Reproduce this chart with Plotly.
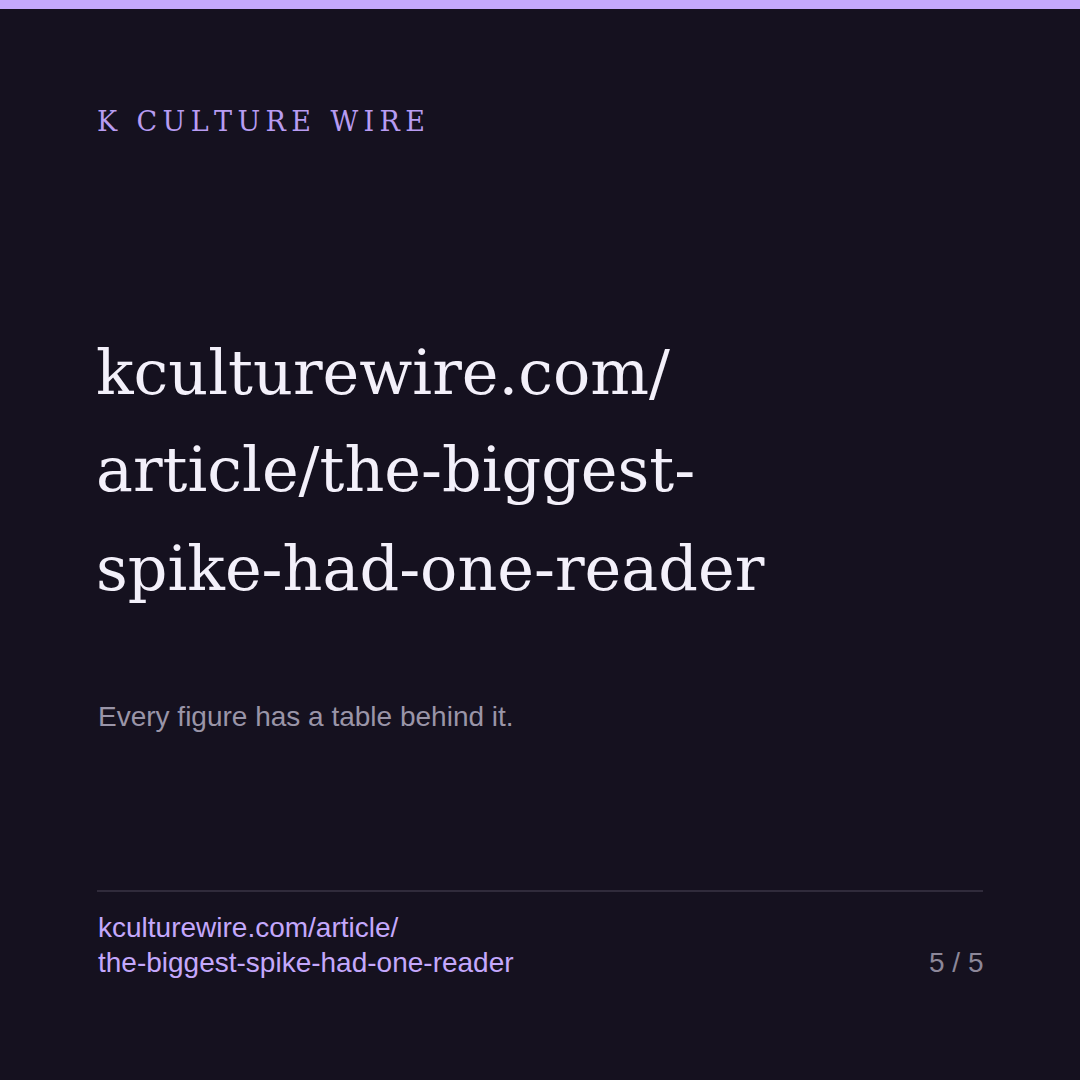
import plotly.graph_objects as go

# card text
brand = "K CULTURE WIRE"
title_lines = ["kculturewire.com/", "article/the-biggest-", "spike-had-one-reader"]
subtitle = "Every figure has a table behind it."
footer_lines = ["kculturewire.com/article/", "the-biggest-spike-had-one-reader"]
page_label = "5 / 5"

BG = "#15111f"
ACCENT = "#c4a8fc"
W = H = 1080


def py(px):
    # pixel row from top -> paper y
    return 1 - px / H


def px_x(px):
    return px / W


fig = go.Figure()

# spread out the brand letters (no letter-spacing in plotly)
brand_spaced = "\u2009".join(brand)

annos = []
annos.append(dict(text=brand_spaced, x=px_x(95), y=py(122), xanchor="left", yanchor="middle",
                  font=dict(family="DejaVu Serif", size=27, color="#b89cf2")))

for i, line in enumerate(title_lines):
    annos.append(dict(text=line, x=px_x(94), y=py(372 + i * 98), xanchor="left", yanchor="middle",
                      font=dict(family="DejaVu Serif", size=62, color="#f3f0fa")))

annos.append(dict(text=subtitle, x=px_x(96), y=py(716), xanchor="left", yanchor="middle",
                  font=dict(family="Liberation Sans", size=28, color="#9a95a8")))

for i, line in enumerate(footer_lines):
    annos.append(dict(text=line, x=px_x(96), y=py(927 + i * 35), xanchor="left", yanchor="middle",
                      font=dict(family="Liberation Sans", size=28, color=ACCENT)))

annos.append(dict(text=page_label, x=px_x(985), y=py(962), xanchor="right", yanchor="middle",
                  font=dict(family="Liberation Sans", size=28, color="#8c8799")))

for a in annos:
    a.update(xref="paper", yref="paper", showarrow=False, align="left")

fig.update_layout(
    width=W, height=H,
    margin=dict(l=0, r=0, t=0, b=0),
    paper_bgcolor=BG, plot_bgcolor=BG,
    xaxis=dict(visible=False, range=[0, 1]),
    yaxis=dict(visible=False, range=[0, 1]),
    annotations=annos,
    shapes=[
        dict(type="rect", xref="paper", yref="paper", x0=0, x1=1, y0=py(9), y1=1,
             fillcolor=ACCENT, line_width=0),
        dict(type="line", xref="paper", yref="paper", x0=px_x(97), x1=px_x(983), y0=py(891), y1=py(891),
             line=dict(color="#3a3446", width=1.5)),
    ],
    showlegend=False,
)

fig.write_html("out.html", config=dict(displayModeBar=False),
               post_script="document.body.style.margin='0';document.body.style.background='%s';" % BG)
